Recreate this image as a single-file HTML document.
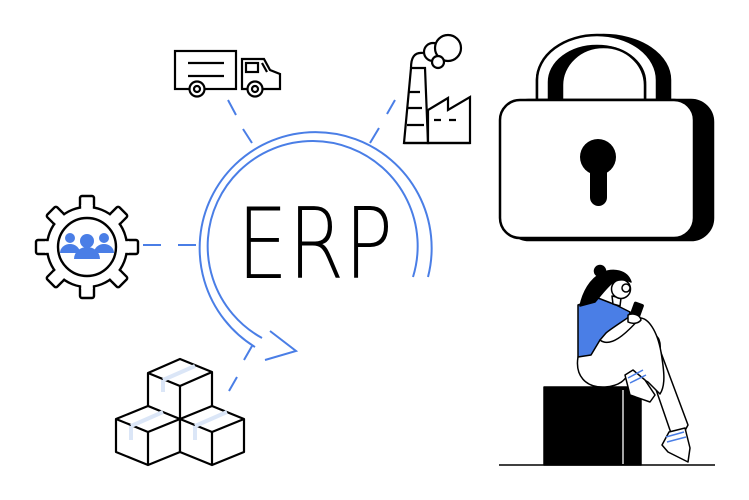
<!DOCTYPE html>
<html><head><meta charset="utf-8"><style>
html,body{margin:0;padding:0;background:#fff;width:749px;height:500px;overflow:hidden}
svg{display:block}
</style></head><body>
<svg width="749" height="500" viewBox="0 0 749 500" xmlns="http://www.w3.org/2000/svg">
<g fill="none" stroke="#4a7ee6" stroke-width="2">
  <path d="M428,277 A116,116 0 1 0 255,347"/>
  <path d="M413,277 A105,105 0 1 0 262,338"/>
  <path d="M270,331 L296,351 L265,360"/>
  <path d="M228,100 L236,115 M243,129 L252,143"/>
  <path d="M395,100 L387,114 M379,128 L370,143"/>
  <path d="M143,245 L161,245 M178,245 L196,245"/>
  <path d="M252,346 L244,360 M237,377 L229,391"/>
</g>
<text x="237" y="278" font-family="DejaVu Sans, Liberation Sans, sans-serif" font-weight="200" font-size="98" textLength="156" lengthAdjust="spacingAndGlyphs" fill="#000">ERP</text>

<!-- truck -->
<g fill="#fff" stroke="#000" stroke-width="2.2">
  <rect x="175" y="51" width="61" height="38"/>
  <path d="M242,59 H264 L270,70 L280,74 V89 H242 Z"/>
  <rect x="246" y="63" width="12" height="9"/>
  <path d="M262,63 L267,72"/>
  <path d="M188,63 H224 M188,76 H224"/>
  <circle cx="197" cy="89" r="7.5"/><circle cx="197" cy="89" r="3"/>
  <circle cx="255" cy="89" r="7.5"/><circle cx="255" cy="89" r="3"/>
</g>

<!-- factory -->
<g fill="#fff" stroke="#000" stroke-width="2.2">
  <path d="M404,143 L411,68 L425,68 L428,143 Z"/>
  <path d="M428,143 V110 L448,98 V110 L470,97 V143 Z"/>
  <path d="M404,143 H470"/>
  <path d="M409,92 H420 M408,108 H422 M407,125 H424 M434,120 H441 M449,120 H456"/>
  <path d="M411,68 C411,58 414,52 423,53"/>
  <circle cx="433" cy="52" r="9"/>
  <circle cx="448" cy="48" r="13"/>
  <circle cx="438" cy="62" r="6"/>
</g>

<!-- gear -->
<g transform="translate(87,247)">
  <g fill="#fff" stroke="#000" stroke-width="2.4">
    <rect x="-7" y="-51" width="14" height="16" rx="2"/>
    <rect x="-7" y="-51" width="14" height="16" rx="2" transform="rotate(45)"/>
    <rect x="-7" y="-51" width="14" height="16" rx="2" transform="rotate(90)"/>
    <rect x="-7" y="-51" width="14" height="16" rx="2" transform="rotate(135)"/>
    <rect x="-7" y="-51" width="14" height="16" rx="2" transform="rotate(180)"/>
    <rect x="-7" y="-51" width="14" height="16" rx="2" transform="rotate(225)"/>
    <rect x="-7" y="-51" width="14" height="16" rx="2" transform="rotate(270)"/>
    <rect x="-7" y="-51" width="14" height="16" rx="2" transform="rotate(315)"/>
    <circle r="40"/>
  </g>
  <g fill="#fff">
    <rect x="-5.8" y="-42" width="11.6" height="8"/>
    <rect x="-5.8" y="-42" width="11.6" height="8" transform="rotate(45)"/>
    <rect x="-5.8" y="-42" width="11.6" height="8" transform="rotate(90)"/>
    <rect x="-5.8" y="-42" width="11.6" height="8" transform="rotate(135)"/>
    <rect x="-5.8" y="-42" width="11.6" height="8" transform="rotate(180)"/>
    <rect x="-5.8" y="-42" width="11.6" height="8" transform="rotate(225)"/>
    <rect x="-5.8" y="-42" width="11.6" height="8" transform="rotate(270)"/>
    <rect x="-5.8" y="-42" width="11.6" height="8" transform="rotate(315)"/>
  </g>
  <circle r="29" fill="#fff" stroke="#000" stroke-width="2.4"/>
  <g fill="#4a7ee6">
    <circle cx="-17" cy="-9" r="5"/><path d="M-27,6 A10,9 0 0 1 -7,6 Z"/>
    <circle cx="17" cy="-9" r="5"/><path d="M7,6 A10,9 0 0 1 27,6 Z"/>
    <circle cx="0" cy="-6" r="7"/><path d="M-13,12 A13,12 0 0 1 13,12 Z"/>
  </g>
</g>

<!-- boxes -->
<g stroke="#000" stroke-width="2.2" stroke-linejoin="round">
  <path d="M148,373 L180,359 L212,372 L212,407 L180,420 L148,406 Z" fill="#fff"/>
  <path d="M148,373 L180,386 L212,372 M180,386 V420" fill="none"/>
  <path d="M116,419 L148,406 L180,419 L180,452 L148,465 L116,452 Z" fill="#fff"/>
  <path d="M116,419 L148,432 L180,419 M148,432 V465" fill="none"/>
  <path d="M180,419 L212,406 L244,419 L244,452 L212,465 L180,452 Z" fill="#fff"/>
  <path d="M180,419 L212,432 L244,419 M212,432 V465" fill="none"/>
</g>
<g stroke="#dbe6f7" stroke-width="4" fill="none">
  <path d="M163,380 L195,366 M163,380 V392"/>
  <path d="M131,426 L163,412 M131,426 V440"/>
  <path d="M195,426 L227,412 M195,426 V440"/>
</g>

<!-- lock -->
<g stroke="#000" stroke-width="2.5" stroke-linejoin="round">
  <path d="M537,100 V80 A66.5,45 0 0 1 670,80 V100 Z" fill="#000"/>
  <path d="M537,100 V80 A60,45 0 0 1 657,80 V100 H645 V82 A48,36 0 0 0 549,82 V100 Z" fill="#fff"/>
  <path d="M562,100 V85 A41.5,38 0 0 1 645,85 V100 Z" fill="#fff"/>
  <rect x="507" y="100" width="206" height="140" rx="22" fill="#000"/>
  <rect x="500" y="100" width="194" height="138" rx="20" fill="#fff"/>
</g>
<circle cx="598" cy="157" r="18" fill="#000"/>
<rect x="590" y="160" width="17" height="46" rx="8.5" fill="#000"/>

<!-- person & box -->
<line x1="499" y1="465" x2="715" y2="465" stroke="#000" stroke-width="1.5"/>
<g stroke="#000" stroke-width="1.5" stroke-linejoin="round">
  <path d="M640,343 C650,328 662,334 660,350 L688,425 L682,436 L672,436 Z" fill="#fff"/>
  <path d="M669,432 L685,428 L690,448 L688,462 L668,452 L662,445 Z" fill="#fff"/>
  <path d="M666,437 L684,432 M667,442 L686,437" stroke="#4a7ee6" stroke-width="1.5"/>
  <rect x="544" y="387" width="97" height="78" fill="#000"/>
  <line x1="623" y1="390" x2="623" y2="464" stroke="#ddd" stroke-width="1.5"/>
  <path d="M578,357 C575,375 585,388 605,387 C620,386 625,380 630,372 L648,382 L660,394 C666,385 664,370 661,352 C657,330 648,318 640,318 C625,318 600,340 578,357 Z" fill="#fff"/>
  <path d="M625,375 L633,370 L645,380 L655,395 L650,402 L630,395 Z" fill="#fff"/>
  <path d="M628,378 L643,370 M630,383 L646,375" stroke="#4a7ee6" stroke-width="1.5"/>
  <path d="M578,305 L598,298 L616,305 L630,312 L625,330 L612,338 L600,340 L591,355 L578,357 Z" fill="#4a7ee6"/>
  <path d="M600,340 C610,348 625,335 640,318 L636,312 C625,320 612,328 606,333 Z" fill="#fff"/>
  <path d="M612,296 L613,304 L620,306 L621,298 Z" fill="#fff"/>
  <circle cx="621" cy="289" r="9.5" fill="#fff"/>
  <path d="M612,283 C606,288 600,296 595,302 L580,306 C583,292 590,279 602,273 C613,268 627,270 631,282 C625,279 617,279 612,283 Z" fill="#000"/>
  <circle cx="600" cy="271" r="5.5" fill="#000"/>
  <circle cx="626" cy="288" r="4" fill="#fff"/>
  <rect x="632" y="303" width="9" height="17" rx="1" transform="rotate(20 636 311)" fill="#000"/>
  <path d="M628,315 C632,313 640,314 641,320 C638,324 632,324 628,322 Z" fill="#fff"/>
</g>
</svg>
</body></html>
